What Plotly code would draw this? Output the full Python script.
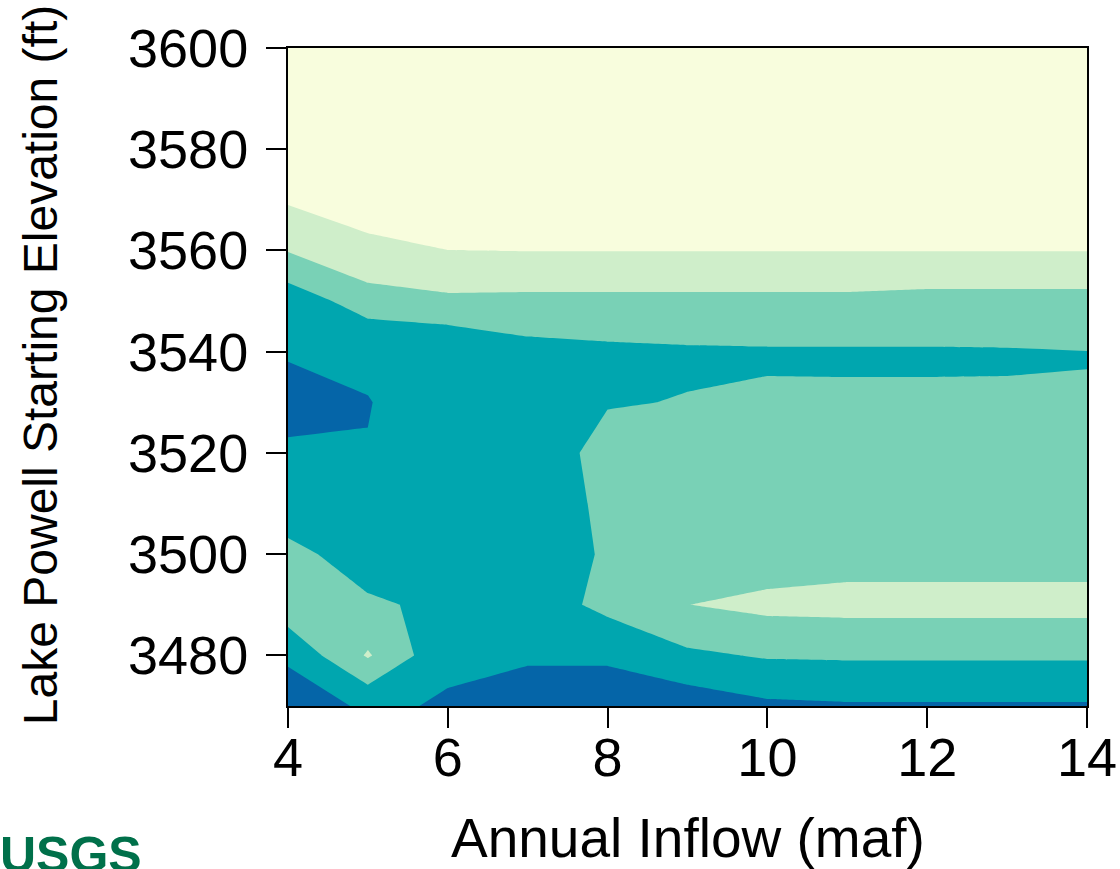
import plotly.graph_objects as go

# Grid axes: annual inflow (maf) and Lake Powell starting elevation (ft)
inflow = [4, 5, 6, 7, 8, 9, 10, 11, 12, 13, 14]
elevation = [3470, 3480, 3490, 3500, 3510, 3520, 3530, 3540, 3550, 3560,
             3570, 3580, 3590, 3600]

# Surface values on the grid, one row per starting elevation (bottom to top),
# one column per inflow value. Bands are split at 1, 2, 3 and 4.
z_3470 = [0.3, 1.2, 0.89, 0.5, 0.81, 0.402, 0.823, 0.902, 0.902, 0.902, 0.902]
z_3480 = [1.2, 3.1, 1.2, 1.13, 1.05, 1.825, 2.089, 2.122, 2.122, 2.122, 2.122]
z_3490 = [2.63, 2.15, 1.775, 1.36, 2.3, 2.99, 3.257, 3.308, 3.308, 3.308, 3.308]
z_3500 = [2.3, 1.5, 1.5, 1.475, 2.1, 2.5, 2.428, 2.624, 2.624, 2.624, 2.624]
z_3510 = [1.36, 1.3, 1.5, 1.4, 2.2, 2.5, 2.6, 2.7, 2.7, 2.7, 2.7]
z_3520 = [1.25, 1.016, 1.4, 1.443, 2.3, 2.4, 2.5, 2.6, 2.6, 2.6, 2.6]
z_3530 = [0.44, 0.984, 1.25, 1.5, 1.95, 2.03, 2.094, 2.086, 2.075, 2.064, 2.019]
z_3540 = [1.14, 1.1, 1.09, 1.67, 1.81, 1.885, 1.914, 1.914, 1.925, 1.941, 1.99]
z_3550 = [1.41, 2.485, 2.81, 2.776, 2.776, 2.776, 2.776, 2.776, 2.678, 2.678, 2.678]
z_3560 = [3.05, 3.915, 3.99, 4.02, 4.02, 4.02, 4.02, 4.02, 4.02, 4.02, 4.02]
z_3570 = [4.11, 4.165, 5, 5, 5, 5, 5, 5, 5, 5, 5]
z_3580 = [5, 5, 5, 5, 5, 5, 5, 5, 5, 5, 5]
z_3590 = [5, 5, 5, 5, 5, 5, 5, 5, 5, 5, 5]
z_3600 = [5, 5, 5, 5, 5, 5, 5, 5, 5, 5, 5]

surface = [z_3470, z_3480, z_3490, z_3500, z_3510, z_3520, z_3530,
           z_3540, z_3550, z_3560, z_3570, z_3580, z_3590, z_3600]

band_colors = ["#0565a8", "#00a6af", "#79d1b6", "#cfeeca", "#f8fddd"]

x_ticks = [4, 6, 8, 10, 12, 14]
y_ticks = [3480, 3500, 3520, 3540, 3560, 3580, 3600]

FONT = "Liberation Sans, Arial, sans-serif"

colorscale = [[i / (len(band_colors) - 1), c] for i, c in enumerate(band_colors)]

fig = go.Figure(
    go.Contour(
        x=inflow,
        y=elevation,
        z=surface,
        colorscale=colorscale,
        showscale=False,
        contours=dict(start=1, end=4, size=1, coloring="fill", showlines=False),
        line=dict(width=0, smoothing=0),
        hoverinfo="skip",
    )
)

axis_common = dict(
    showgrid=False,
    zeroline=False,
    showline=True,
    linecolor="black",
    linewidth=2,
    mirror=True,
    ticks="outside",
    ticklen=20,
    tickwidth=2,
    tickcolor="black",
    automargin=False,
    tickfont=dict(family=FONT, size=54, color="black"),
)

fig.update_layout(
    width=1120,
    height=869,
    margin=dict(l=288, r=33, t=48, b=163),
    paper_bgcolor="white",
    plot_bgcolor="white",
    xaxis=dict(range=[4, 14], tickvals=x_ticks, ticklabelstandoff=-17, **axis_common),
    yaxis=dict(range=[3470, 3600], tickvals=y_ticks, ticklabelstandoff=7, **axis_common),
    annotations=[
        dict(
            text="Annual Inflow (maf)",
            xref="paper", yref="paper",
            x=0.5, y=-0.2006,
            xanchor="center", yanchor="middle",
            showarrow=False,
            font=dict(family=FONT, size=55, color="black"),
        ),
        dict(
            text="Lake Powell Starting Elevation (ft)",
            xref="paper", yref="paper",
            x=-0.3104, y=0.518,
            xanchor="center", yanchor="middle",
            textangle=-90,
            showarrow=False,
            font=dict(family=FONT, size=48, color="black"),
        ),
        dict(
            text="<b>USGS</b>",
            xref="paper", yref="paper",
            x=-0.3625, y=-0.1816,
            xanchor="left", yanchor="top",
            showarrow=False,
            font=dict(family="Liberation Sans Narrow, Arial Narrow, Liberation Sans, sans-serif",
                      size=50, color="#00704a"),
        ),
    ],
)

fig.write_html("out.html")
